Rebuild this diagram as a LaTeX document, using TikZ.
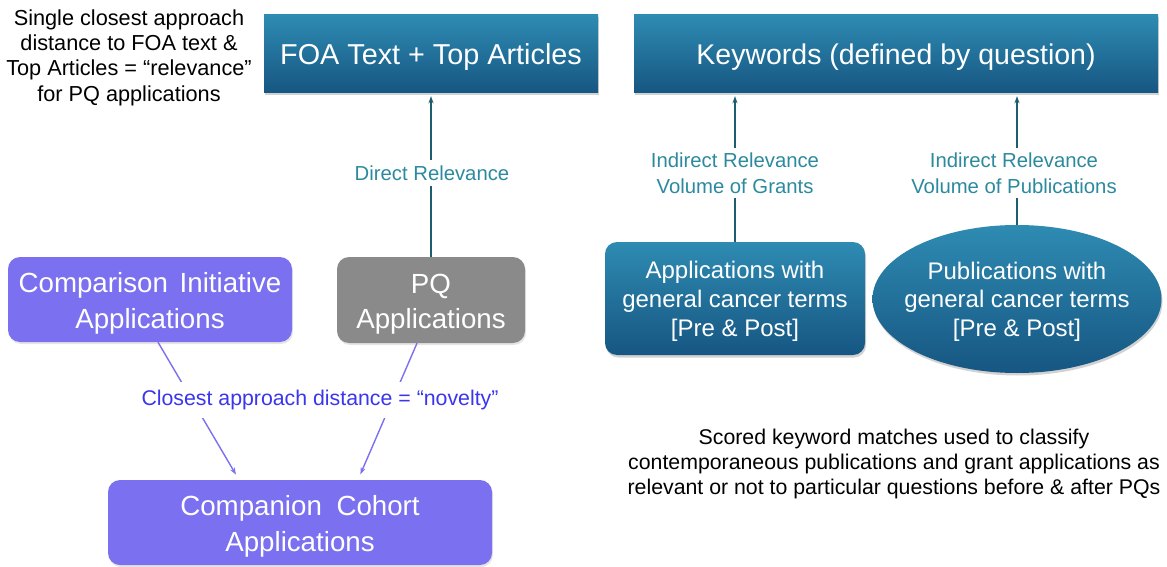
\documentclass[tikz,border=0pt]{standalone}
\usepackage{fontspec}
\setmainfont{Liberation Sans}
\usetikzlibrary{shapes.geometric,arrows.meta,calc,shadows}
\definecolor{tealtop}{HTML}{2E8BB2}
\definecolor{tealbot}{HTML}{165682}
\definecolor{purplebox}{HTML}{7B70EF}
\definecolor{greybox}{HTML}{8A8A8A}
\definecolor{teallabel}{HTML}{2C8A9E}
\definecolor{tealline}{HTML}{1D5E6E}
\definecolor{novelty}{HTML}{3B35EE}
\newcommand\mltext[2]{\raisebox{#1}[\height][\depth]{\begin{tabular}{@{}c@{}}#2\end{tabular}}}
\newcommand\mltextz[2]{\raisebox{#1}[\height][\depth]{\makebox[0pt]{\begin{tabular}{@{}c@{}}#2\end{tabular}}}}
\begin{document}
\begin{tikzpicture}[x=1pt,y=-1pt,
  tealbox/.style={top color=tealtop,bottom color=tealbot,draw=none,text=white,
    inner sep=0pt,align=center,
    drop shadow={opacity=0.35,shadow xshift=1pt,shadow yshift=-2.5pt}},
  purpbox/.style={fill=purplebox,draw=none,text=white,rounded corners=12pt,
    inner sep=0pt,align=center,font=\fontsize{27.7}{35.5}\selectfont,
    drop shadow={opacity=0.2,shadow xshift=1pt,shadow yshift=-2pt}},
  greybx/.style={purpbox,fill=greybox},
  plaintext/.style={align=center,text=black,font=\fontsize{21.3}{25.4}\selectfont},
  teallab/.style={fill=white,text=teallabel,align=center,font=\fontsize{20.3}{26}\selectfont},
  teallink/.style={draw=tealline,line width=1.5pt,-{Stealth[length=7pt,width=5pt]},shorten >=3pt},
  purplink/.style={draw=purplebox,line width=1.4pt,-{Stealth[length=7pt,width=5pt]},shorten >=6pt}
]
\useasboundingbox (0,0) rectangle (1167,567);
\fill[white] (0,0) rectangle (1167,567);

% top boxes
\node[tealbox,minimum width=334pt,minimum height=78pt,font=\fontsize{28.8}{32}\selectfont]
  (foa) at (431,54) {\mltext{-4pt}{FOA Text + Top Articles}};
\node[tealbox,minimum width=524pt,minimum height=78pt,font=\fontsize{28.5}{32}\selectfont]
  (kw) at (896,54) {\mltext{-4pt}{Keywords (defined by question)}};

% left text
\node[plaintext,font=\fontsize{21.7}{25.3}\selectfont] (single) at (129,57.5)
  {Single closest approach\\distance to FOA text \&\\Top Articles = “relevance”\\for PQ applications};

% purple / grey boxes
\node[purpbox,minimum width=284pt,minimum height=85pt] (ci) at (150,299.5)
  {\mltext{-4pt}{Comparison\hspace{0.15em} Initiative\\Applications}};
\node[greybx,minimum width=188pt,minimum height=86pt] (pq) at (431,300)
  {\mltext{-4pt}{PQ\\Applications}};
\node[purpbox,minimum width=384pt,minimum height=85pt]
  (cc) at (300,522.5) {\mltext{-4pt}{Companion\hspace{0.25em} Cohort\\Applications}};

% right teal shapes
\node[tealbox,rounded corners=12pt,minimum width=260pt,minimum height=113pt,
  font=\fontsize{24}{29}\selectfont] (app) at (735,298.5)
  {\mltext{-3pt}{Applications with\\general cancer terms\\{}[Pre \& Post]}};
\node[tealbox,ellipse,minimum width=289pt,minimum height=148pt,
  font=\fontsize{24}{28.5}\selectfont] (pub) at (1017,299)
  {\mltextz{-3pt}{Publications with\\general cancer terms\\{}[Pre \& Post]}};

% bottom right text
\node[plaintext] (scored) at (894,464)
  {Scored keyword matches used to classify\\contemporaneous publications and grant applications as\\relevant or not to particular questions before \& after PQs};

% connectors
\draw[teallink] (pq.north) -- (pq.north |- foa.south);
\draw[teallink] (app.north) -- (app.north |- kw.south);
\draw[teallink] (pub.north) -- (pub.north |- kw.south);
\draw[purplink] ($(ci.south)+(8,0)$) -- ($(cc.north)+(-61,0)$);
\draw[purplink] ($(pq.south)+(-14,0)$) -- ($(cc.north)+(58,0)$);

% labels on connectors
\node[teallab,inner xsep=2pt,inner ysep=5.5pt] (direct) at (432,173) {Direct Relevance};
\node[teallab,inner xsep=2pt,inner ysep=5pt] (indg) at (735,173)
  {Indirect Relevance\\Volume of Grants};
\node[teallab,inner xsep=2pt,inner ysep=5pt] (indp) at (1014,173)
  {Indirect Relevance\\Volume of Publications};
\node[fill=white,text=novelty,font=\fontsize{21.3}{24}\selectfont,inner xsep=2pt,inner ysep=8pt]
  (nov) at (320,400) {Closest approach distance = “novelty”};
\end{tikzpicture}
\end{document}
